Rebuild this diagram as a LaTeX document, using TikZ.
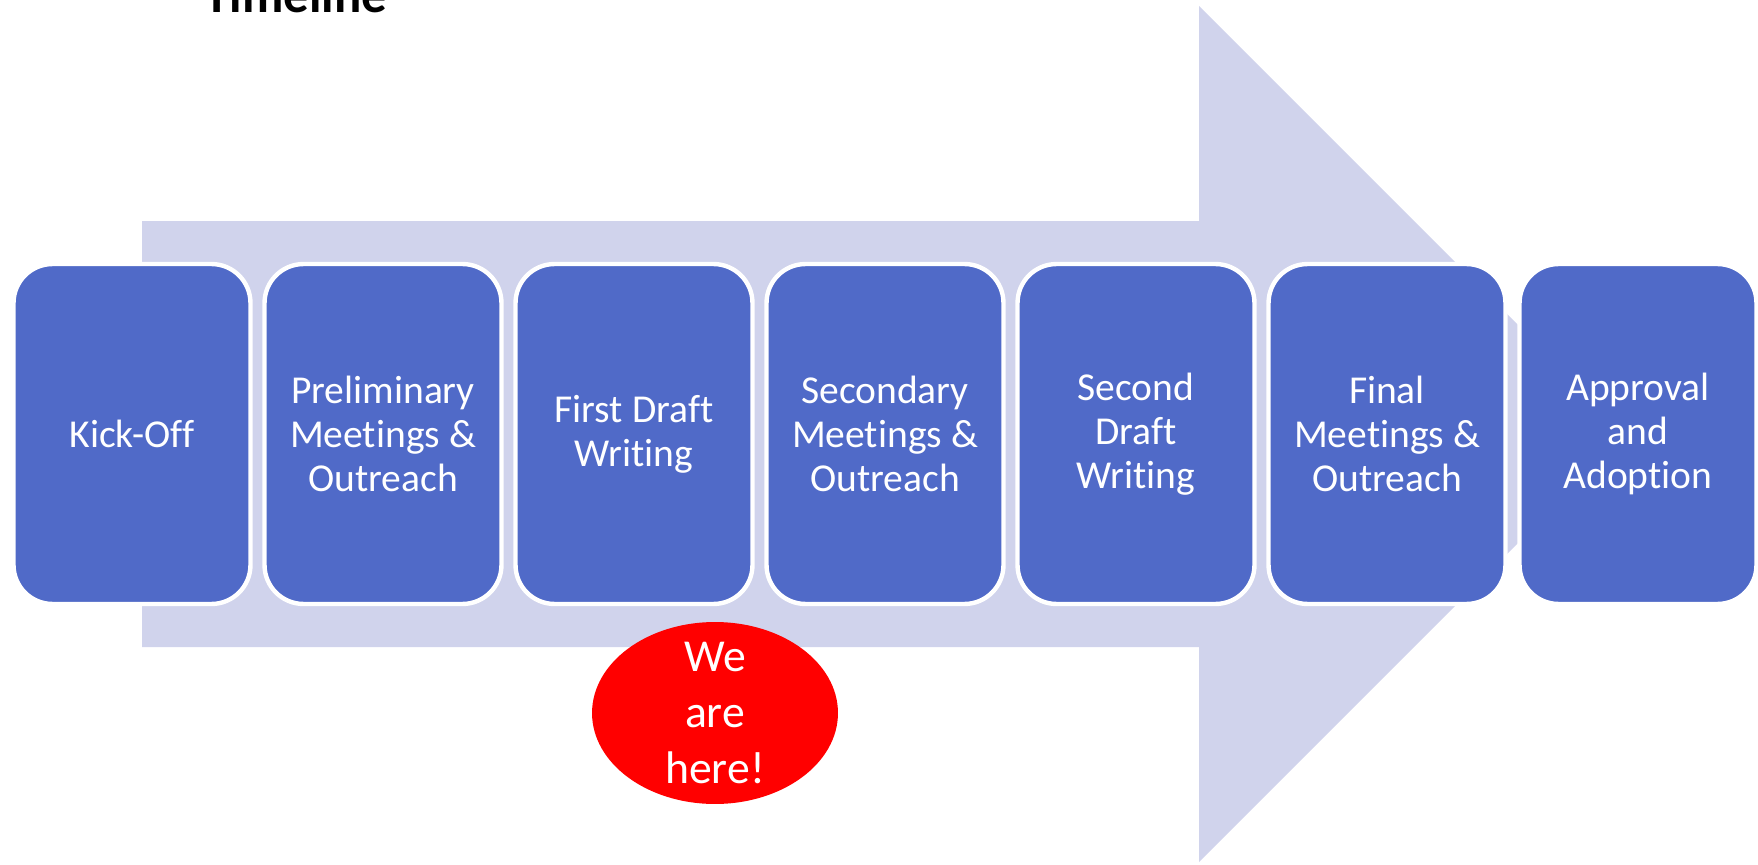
\documentclass[tikz,border=0pt]{standalone}
\usepackage{fontspec}
\setmainfont{Carlito}[Ligatures=NoCommon]
\usetikzlibrary{shapes.geometric}

\begin{document}
\begin{tikzpicture}[x=0.02cm,y=-0.02cm]
% Colors
\definecolor{arrowcolor}{RGB}{208,211,236}
\definecolor{stepcolor}{RGB}{80,106,200}
\colorlet{herecolor}{red}
% Styles
\tikzstyle{phase}=[draw=white,line width=2.5pt,fill=stepcolor,rounded corners=0.78cm,
  minimum width=4.74cm,minimum height=6.8cm,text=white,align=center,
  font=\fontsize{22.5}{25}\selectfont]
\tikzstyle{marker}=[ellipse,fill=herecolor,minimum width=4.92cm,minimum height=3.64cm,inner sep=0pt]
\tikzstyle{marker text}=[text=white,align=center,font=\fontsize{26}{32}\selectfont]
% The graphic
\useasboundingbox (0,0) rectangle (1758,865);
\clip (0,0) rectangle (1758,865);
\node[anchor=base,font=\fontsize{29}{34}\selectfont\bfseries] (title) at (296,13) {Timeline};
\fill[arrowcolor] (142,221) -- (1199,221) -- (1199,6) -- (1627,434)
  -- (1199,862) -- (1199,647) -- (142,647) -- cycle;
\foreach \n/\txt [count=\i from 0] in {kickoff/Kick-Off,
    prelim/{Preliminary\\Meetings \&\\Outreach},
    firstdraft/{First Draft\\Writing},
    secondary/{Secondary\\Meetings \&\\Outreach},
    seconddraft/{Second\\Draft\\Writing},
    final/{Final\\Meetings \&\\Outreach},
    approval/{Approval\\and\\Adoption}}
  \node[phase] (\n) at (132+251*\i,434) {\txt};
\node[marker] (here) at (715,713) {};
\node[marker text] (here text) at (here) {We\\are\\here!};
\end{tikzpicture}
\end{document}
